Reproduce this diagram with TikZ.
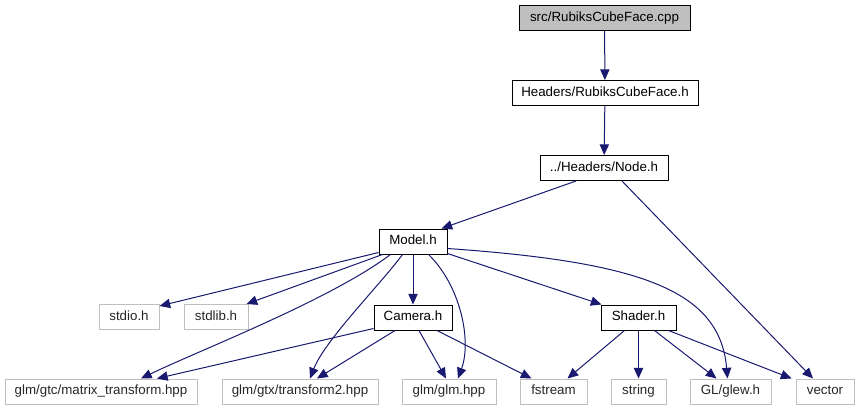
\documentclass[tikz,border=0pt]{standalone}
\usepackage{fontspec}
\setmainfont{Liberation Sans}
\usetikzlibrary{arrows.meta,calc}
\definecolor{edgeblue}{HTML}{191970}
\definecolor{greybd}{HTML}{BFBFBF}
\tikzset{
  box/.style={draw=black, line width=0.75pt, inner sep=0pt, minimum height=25*0.75pt, text height=7.3pt, text depth=2.1pt, font=\fontsize{10}{12}\selectfont, text=black},
  extbox/.style={draw=greybd, line width=0.75pt, inner sep=0pt, minimum height=25*0.75pt, text height=7.3pt, text depth=2.1pt, font=\fontsize{10}{12}\selectfont, text=black!85},
  bw/.style={minimum width=#1*0.75pt},
  dep/.style={draw=edgeblue, line width=0.75pt, -{Triangle[length=8pt,width=7pt]}},
}
\begin{document}
\begin{tikzpicture}[x=0.75pt,y=-0.75pt]
\useasboundingbox (0,0) rectangle (860,411);
% top chain
\node[box, fill=greybd, bw=171] (cpp) at (604.5,18) {src/RubiksCubeFace.cpp};
\node[box, bw=186] (rcf) at (605,93) {Headers/RubiksCubeFace.h};
\node[box, bw=128] (nodeh) at (604,168) {../Headers/Node.h};
\node[box, bw=68] (model) at (413,241.5) {Model.h};
% middle row
\node[extbox, bw=60] (stdio) at (129,317) {stdio.h};
\node[extbox, bw=64] (stdlib) at (216,317) {stdlib.h};
\node[box, bw=78] (camera) at (413,317.5) {Camera.h};
\node[box, bw=75] (shader) at (638.5,317.5) {Shader.h};
% bottom row
\node[extbox, bw=192] (mat) at (101,391.5) {glm/gtc/matrix\_transform.hpp};
\node[extbox, bw=156] (tr2) at (300,391.5) {glm/gtx/transform2.hpp};
\node[extbox, bw=94] (glm) at (449,391.5) {glm/glm.hpp};
\node[extbox, bw=67] (fstream) at (553.5,391.5) {fstream};
\node[extbox, bw=55] (string) at (638.5,391.5) {string};
\node[extbox, bw=81] (glew) at (730.5,391.5) {GL/glew.h};
\node[extbox, bw=58] (vector) at (825,391.5) {vector};
% edges
\draw[dep] (cpp) -- (rcf);
\draw[dep] (rcf) -- (nodeh);
\draw[dep] ($(nodeh.south)+(-28,0)$) -- ($(model.north east)+(-6,0)$);
\draw[dep] ($(nodeh.south)+(18,0)$) -- ($(vector.north)+(-12,0)$);
\draw[dep] ($(model.south west)+(0,-2)$) -- ($(stdio.north east)+(0,2)$);
\draw[dep] ($(model.south west)+(4,0)$) -- ($(stdlib.north east)+(-2,0)$);
\draw[dep] ($(model.south west)+(12,0)$) .. controls (330,300) and (200,350) .. ($(mat.north)+(40,0)$);
\draw[dep] ($(model.south west)+(24,0)$) .. controls (380,285) and (325,340) .. ($(tr2.north)+(10,0)$);
\draw[dep] (model) -- (camera);
\draw[dep] ($(model.south east)+(-19,0)$) .. controls (460,285) and (472,340) .. ($(glm.north)+(9,0)$);
\draw[dep] ($(model.south east)+(0,-1)$) -- ($(shader.north west)+(1,0)$);
\draw[dep] ($(model.south east)+(0,-6)$) .. controls (640,262) and (720,290) .. ($(glew.north)+(-3,0)$);
\draw[dep] ($(camera.south west)+(0,-2)$) -- ($(mat.north)+(56,0)$);
\draw[dep] ($(camera.south)+(-18,0)$) -- ($(tr2.north)+(17,0)$);
\draw[dep] ($(camera.south)+(6,0)$) -- ($(glm.north)+(-3,0)$);
\draw[dep] ($(camera.south)+(24,0)$) -- ($(fstream.north)+(-22,0)$);
\draw[dep] ($(shader.south)+(-14,0)$) -- ($(fstream.north)+(14,0)$);
\draw[dep] (shader) -- (string);
\draw[dep] ($(shader.south)+(16,0)$) -- ($(glew.north)+(-14,0)$);
\draw[dep] ($(shader.south east)+(-8,0)$) -- ($(vector.north west)+(-4,0)$);
\end{tikzpicture}
\end{document}
